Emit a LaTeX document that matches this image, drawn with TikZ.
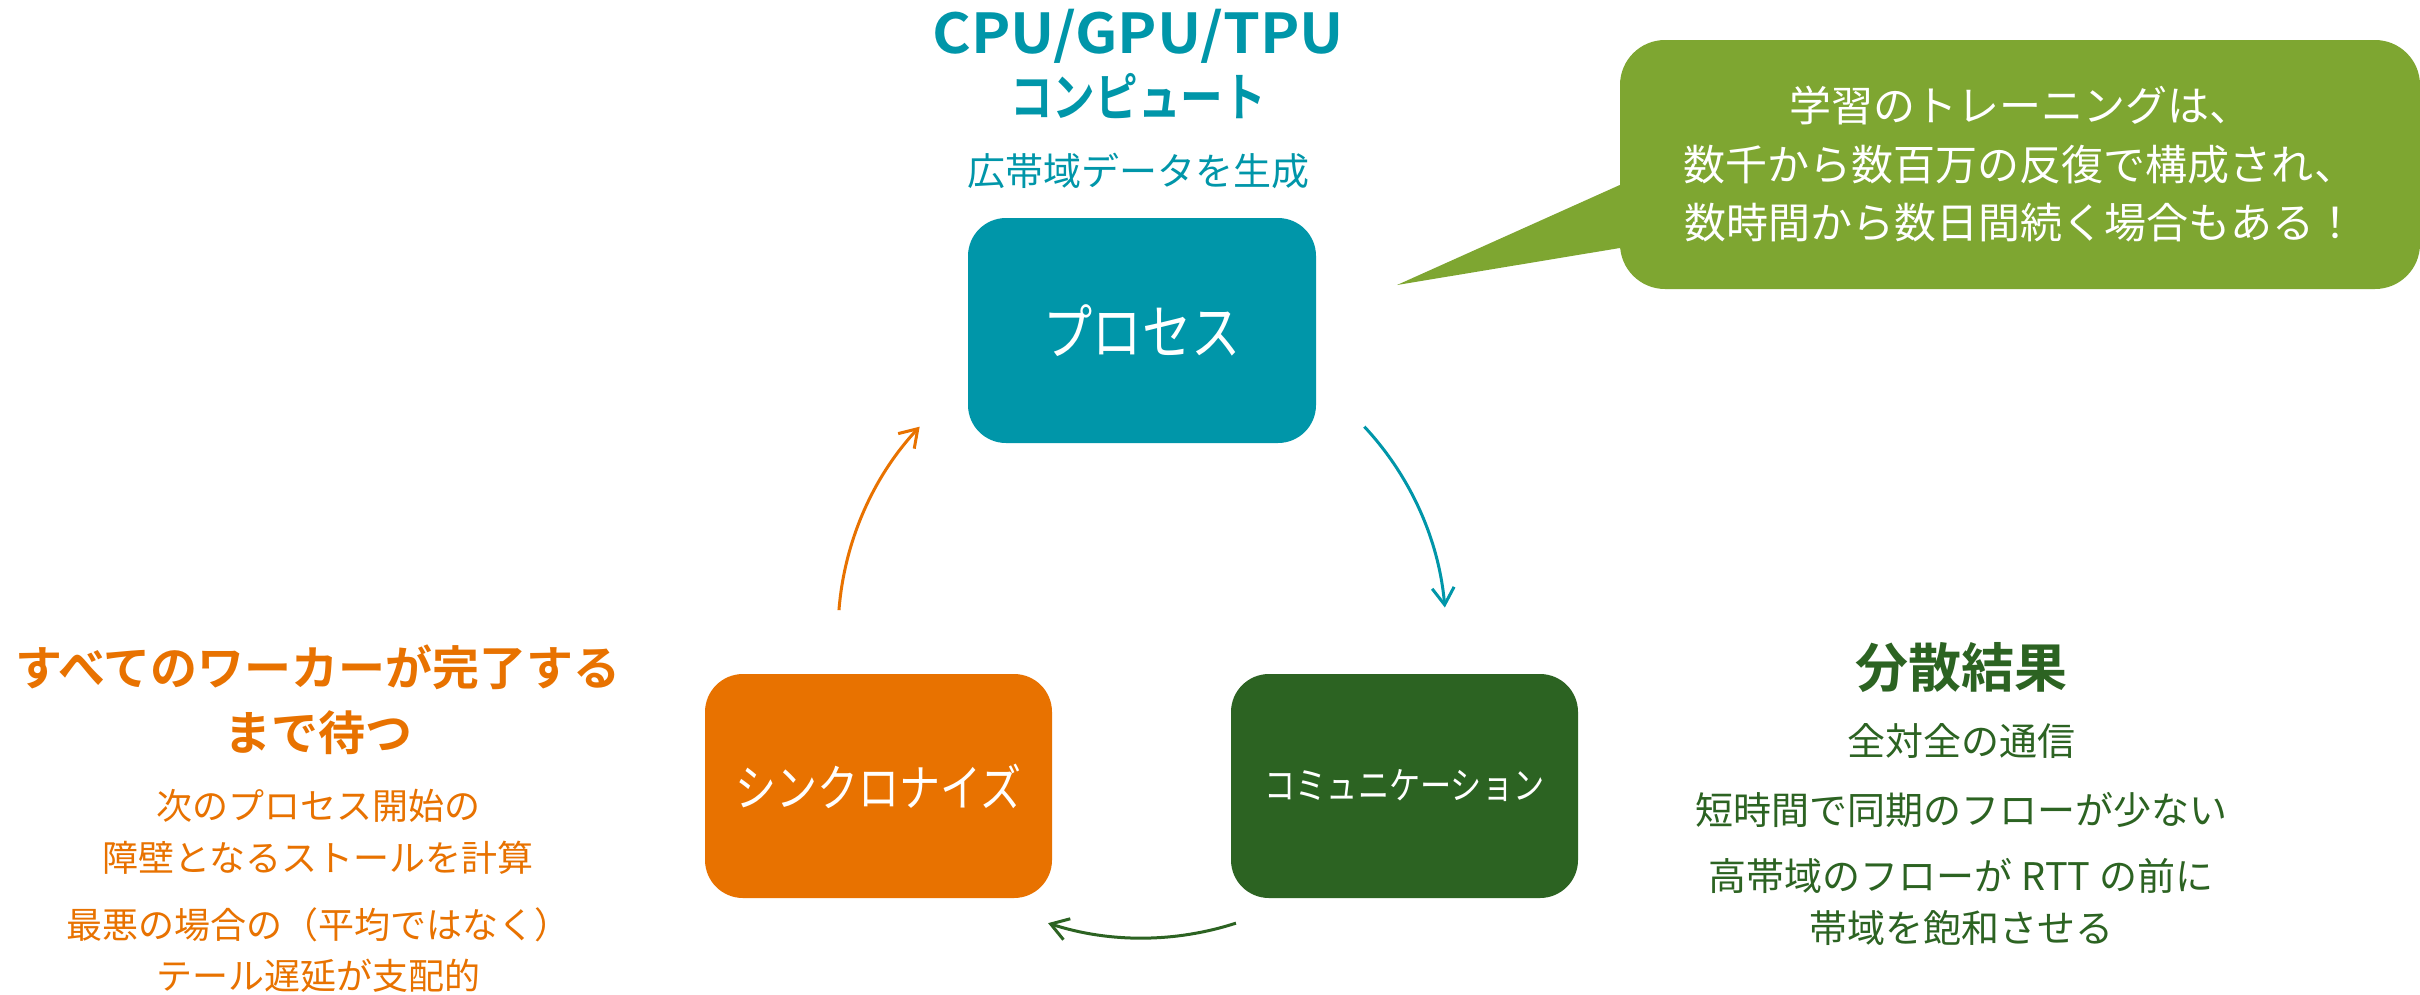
\documentclass[tikz,border=0pt]{standalone}
\usepackage{fontspec}
\setmainfont{Noto Sans CJK JP}[BoldFont={Noto Sans CJK JP Bold}]
\newfontfamily\jpn{Noto Sans CJK JP}[FakeStretch=0.82]
\newfontfamily\jpnb{Noto Sans CJK JP Bold}[FakeStretch=0.82]
\newfontfamily\jpwb{Noto Sans CJK JP Bold}[FakeStretch=1.075]
\usetikzlibrary{arrows.meta,calc}
\definecolor{cteal}{HTML}{0096A9}
\definecolor{corange}{HTML}{E87200}
\definecolor{cdkgreen}{HTML}{2C6322}
\definecolor{clgreen}{HTML}{7EA631}
\tikzset{
  stagebox/.style={rounded corners=38pt, minimum width=347pt, minimum height=224pt, inner sep=0pt, text=white, draw=none},
  lbl/.style={inner sep=0pt, align=center},
  cyc/.style={line width=3pt, -{Straight Barb[length=17pt,width=22pt,line width=3pt]}},
}
\begin{document}
\begin{tikzpicture}[x=1pt,y=-1pt]
\useasboundingbox (0,0) rectangle (2420,994);
\fill[white] (0,0) rectangle (2420,994);

% stage boxes
\node[stagebox, fill=cteal, minimum width=348pt, minimum height=225pt] (proc) at (1142,330.5)
  {\jpn\fontsize{60}{60}\selectfont プロセス};
\node[stagebox, fill=corange] (sync) at (878.5,786)
  {\jpn\fontsize{50}{50}\selectfont シンクロナイズ};
\node[stagebox, fill=cdkgreen] (comm) at (1404.5,786)
  {\jpn\fontsize{38}{38}\selectfont コミュニケーション};

% titles above process
\node[lbl, text=cteal, anchor=base] (cpu) at (1138,53) {\jpwb\fontsize{55}{55}\selectfont CPU/GPU/TPU};
\node[lbl, text=cteal] (compute) at (1138,96) {\jpnb\fontsize{52}{52}\selectfont コンピュート};
\node[lbl, text=cteal, font=\fontsize{38}{38}\selectfont] (gen) at (1138,171) {広帯域データを生成};

% callout
\node[lbl, fill=clgreen, rounded corners=45pt, minimum width=800pt, minimum height=249pt,
      text=white, font=\fontsize{42}{58.5}\selectfont] (callout) at (2020,164.5)
  {学習のトレーニングは、\\数千から数百万の反復で構成され、\\数時間から数日間続く場合もある！};
\coordinate (tip) at (1397,285);
\fill[clgreen] ([xshift=12pt,yshift=-20.5pt]callout.west) -- ([yshift=-20.5pt]callout.west)
  -- (tip) -- ([yshift=-83.5pt]callout.west) -- ([xshift=12pt,yshift=-83.5pt]callout.west) -- cycle;

% left texts (synchronize)
\node[lbl, text=corange, font=\bfseries\fontsize{47}{65}\selectfont] (waitT) at (318,700)
  {すべてのワーカーが完了する\\まで待つ};
\node[lbl, text=corange, font=\fontsize{36}{52.5}\selectfont] (waitA) at (318,832)
  {次のプロセス開始の\\障壁となるストールを計算};
\node[lbl, text=corange, font=\fontsize{36}{51}\selectfont] (waitB) at (318,950)
  {最悪の場合の（平均ではなく）\\テール遅延が支配的};

% right texts (communication)
\node[lbl, text=cdkgreen, font=\bfseries\fontsize{53}{53}\selectfont] (distT) at (1961,668) {分散結果};
\node[lbl, text=cdkgreen, font=\fontsize{38}{38}\selectfont] (distA) at (1961,741) {全対全の通信};
\node[lbl, text=cdkgreen, font=\fontsize{38}{38}\selectfont] (distB) at (1961,810) {短時間で同期のフローが少ない};
\node[lbl, text=cdkgreen, font=\fontsize{38}{52}\selectfont] (distC) at (1961,902)
  {高帯域のフローが RTT の前に\\帯域を飽和させる};

% cycle arrows
\coordinate (ctr) at (1142,634);
\coordinate (aT) at ($(ctr)+(-43:304)$);
\coordinate (aG) at ($(ctr)+(72:304)$);
\coordinate (aO) at ($(ctr)+(184.5:304)$);
\draw[cyc, cteal] (aT) arc[start angle=-43, end angle=-5, radius=304];
\draw[cyc, cdkgreen] (aG) arc[start angle=72, end angle=108, radius=304];
\draw[cyc, corange] (aO) arc[start angle=184.5, end angle=223, radius=304];
\end{tikzpicture}
\end{document}
